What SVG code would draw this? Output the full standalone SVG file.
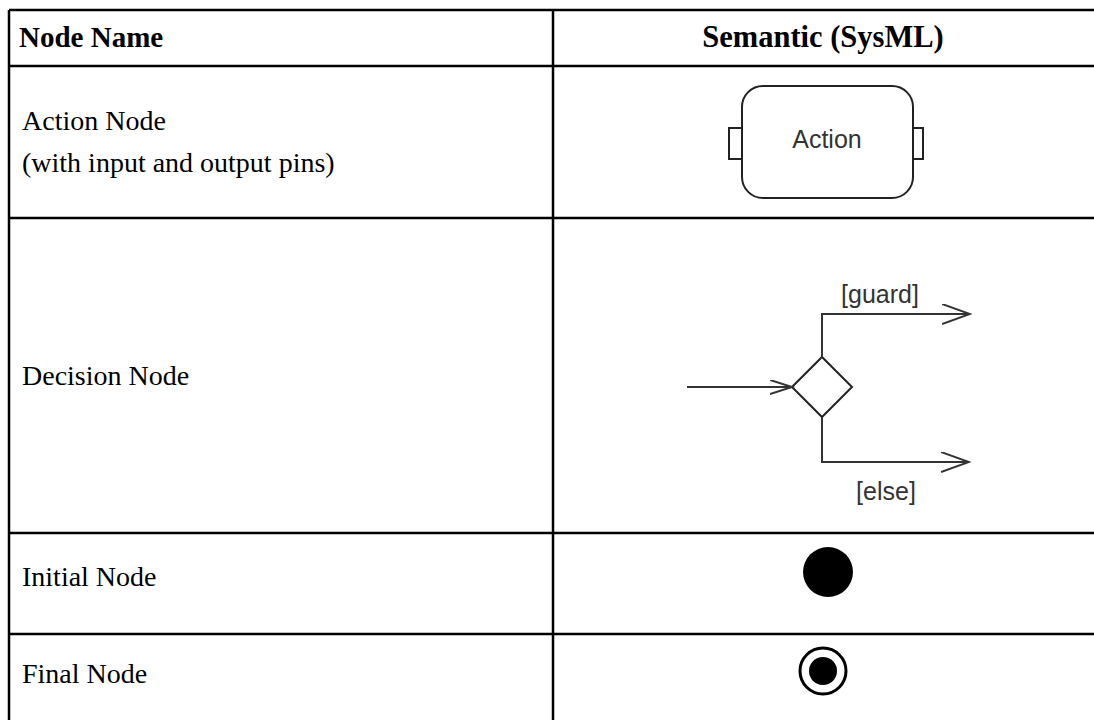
<svg xmlns="http://www.w3.org/2000/svg" width="1094" height="720" viewBox="0 0 1094 720">
<style>
.grid{stroke:#000;stroke-width:2.5;fill:none}
.hd{font-family:"Liberation Serif","Times New Roman",serif;font-weight:bold;font-size:29px;fill:#000}
.tx{font-family:"Liberation Serif","Times New Roman",serif;font-size:28px;fill:#000}
.sym{stroke:#222;stroke-width:2;fill:#fff}
.ln{stroke:#333;stroke-width:2;fill:none}
.lb{font-family:"Liberation Sans",Arial,sans-serif;font-size:25px;fill:#333}
</style>
<defs>
<marker id="open" markerWidth="30" markerHeight="24" refX="28" refY="10" orient="auto" markerUnits="userSpaceOnUse">
<path d="M0,0 L28,10 L0,20" fill="none" stroke="#333" stroke-width="2"/>
</marker>
<marker id="openS" markerWidth="26" markerHeight="18" refX="22" refY="7" orient="auto" markerUnits="userSpaceOnUse">
<path d="M0,0 L22,7 L0,14" fill="none" stroke="#333" stroke-width="2"/>
</marker>
</defs>
<rect width="1094" height="720" fill="#fff"/>
<g id="table">
<path class="grid" d="M9,10 H1094 M9,66 H1094 M9,218 H1094 M9,533 H1094 M9,634 H1094 M9,10 V722 M553,10 V722"/>
<text class="hd" x="19" y="47">Node Name</text>
<text class="hd" x="823" y="47" text-anchor="middle" style="font-size:30.5px">Semantic (SysML)</text>
<text class="tx" x="22" y="130">Action Node</text>
<text class="tx" x="22" y="172">(with input and output pins)</text>
<text class="tx" x="22" y="385">Decision Node</text>
<text class="tx" x="22" y="586">Initial Node</text>
<text class="tx" x="22" y="683">Final Node</text>
</g>
<g id="action-node">
<rect class="sym" x="729" y="128" width="13" height="31"/>
<rect class="sym" x="913" y="128" width="10" height="31"/>
<rect class="sym" x="742" y="86" width="171" height="112" rx="21" ry="21"/>
<text class="lb" x="827" y="148" text-anchor="middle">Action</text>
</g>
<g id="decision-node">
<polygon class="sym" points="792,387 822,357 852,387 822,417"/>
<text class="lb" x="880" y="303" text-anchor="middle">[guard]</text>
<text class="lb" x="886" y="500" text-anchor="middle">[else]</text>
</g>
<g id="initial-node">
<circle cx="828" cy="572" r="25" fill="#000"/>
</g>
<g id="final-node">
<circle cx="823" cy="671" r="23" fill="#fff" stroke="#000" stroke-width="3"/>
<circle cx="823" cy="671" r="14" fill="#000"/>
</g>
<g id="connectors">
<line class="ln" x1="687" y1="387" x2="792" y2="387" marker-end="url(#openS)"/>
<polyline class="ln" points="822,357 822,314 970,314" marker-end="url(#open)"/>
<polyline class="ln" points="822,417 822,462 969,462" marker-end="url(#open)"/>
</g>
</svg>
